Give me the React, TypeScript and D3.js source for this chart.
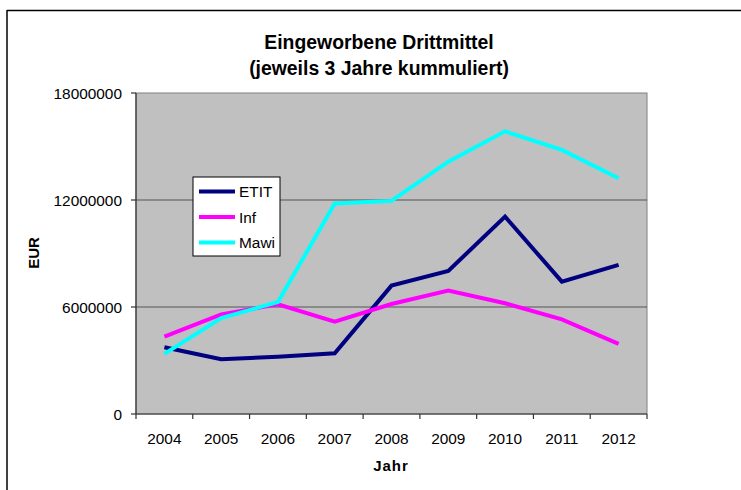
import React from "react";
import * as d3 from "d3";

const years = ["2004", "2005", "2006", "2007", "2008", "2009", "2010", "2011", "2012"];
const etit = [3740000, 3070000, 3210000, 3400000, 7200000, 8020000, 11070000, 7420000, 8360000];
const inf = [4340000, 5590000, 6150000, 5180000, 6170000, 6920000, 6210000, 5310000, 3930000];
const mawi = [3370000, 5380000, 6280000, 11810000, 11950000, 14150000, 15850000, 14810000, 13220000];
const yTicks = [0, 6000000, 12000000, 18000000];
const seriesNames = ["ETIT", "Inf", "Mawi"];
const seriesColors = ["#000080", "#FF00FF", "#00FFFF"];
const titleLines = ["Eingeworbene Drittmittel", "(jeweils 3 Jahre kummuliert)"];

export default function App() {
  const W = 741, H = 490;
  const left = 136, right = 647, top = 93, bottom = 414;
  const x = d3.scaleBand<string>().domain(years).range([left, right]);
  const y = d3.scaleLinear().domain([0, 18000000]).range([bottom, top]);
  const line = d3
    .line<number>()
    .x((_, i) => (x(years[i]) as number) + x.bandwidth() / 2)
    .y((d) => y(d));
  const data = [etit, inf, mawi];
  const font = "Arial, 'Liberation Sans', sans-serif";
  const legendX = 193, legendY = 177, legendW = 87, legendH = 79;

  return (
    <svg
      width={W}
      height={H}
      style={{ position: "absolute", left: 0, top: 0, background: "#fff" }}
      fontFamily={font}
    >
      <rect x={0} y={0} width={W} height={H} fill="#fff" />
      {/* outer frame (cropped) */}
      <line x1={7} y1={10.5} x2={W} y2={10.5} stroke="#000" strokeWidth={1.5} />
      <line x1={7} y1={10} x2={7} y2={H} stroke="#000" strokeWidth={1.5} />

      {/* title */}
      <text x={379} y={49} textAnchor="middle" fontWeight="bold" fontSize={19.4} fill="#000">
        {titleLines[0]}
      </text>
      <text x={379} y={75} textAnchor="middle" fontWeight="bold" fontSize={19.4} fill="#000">
        {titleLines[1]}
      </text>

      {/* plot area */}
      <rect x={left} y={top} width={right - left} height={bottom - top} fill="#C0C0C0" stroke="#808080" strokeWidth={1} />
      {yTicks.slice(1, 3).map((t) => (
        <line key={t} x1={left} x2={right} y1={y(t)} y2={y(t)} stroke="#555" strokeWidth={1.2} />
      ))}

      {/* y axis */}
      <line x1={left} x2={left} y1={top} y2={bottom} stroke="#333" strokeWidth={1.2} />
      {yTicks.map((t) => (
        <g key={t}>
          <line x1={left - 5} x2={left} y1={y(t)} y2={y(t)} stroke="#333" strokeWidth={1.2} />
          <text x={left - 14} y={y(t) + 5.5} textAnchor="end" fontSize={15.4} fill="#000">
            {t}
          </text>
        </g>
      ))}

      {/* x axis */}
      <line x1={left} x2={right} y1={bottom} y2={bottom} stroke="#333" strokeWidth={1.2} />
      {years.map((yr) => (
        <line
          key={"t" + yr}
          x1={x(yr) as number}
          x2={x(yr) as number}
          y1={bottom}
          y2={bottom + 5}
          stroke="#333"
          strokeWidth={1.2}
        />
      ))}
      <line x1={right} x2={right} y1={bottom} y2={bottom + 5} stroke="#333" strokeWidth={1.2} />
      {years.map((yr) => (
        <text
          key={yr}
          x={(x(yr) as number) + x.bandwidth() / 2}
          y={444}
          textAnchor="middle"
          fontSize={15.4}
          fill="#000"
        >
          {yr}
        </text>
      ))}

      {/* axis titles */}
      <text x={391} y={471} textAnchor="middle" fontWeight="bold" fontSize={15} letterSpacing={1} fill="#000">
        Jahr
      </text>
      <text
        transform={`translate(39,253) rotate(-90)`}
        textAnchor="middle"
        fontWeight="bold"
        fontSize={15}
        fill="#000"
      >
        EUR
      </text>

      {/* series */}
      {data.map((d, i) => (
        <path
          key={seriesNames[i]}
          d={line(d) as string}
          fill="none"
          stroke={seriesColors[i]}
          strokeWidth={4}
          strokeLinejoin="miter"
        />
      ))}

      {/* legend */}
      <rect x={legendX} y={legendY} width={legendW} height={legendH} fill="#fff" stroke="#000" strokeWidth={1} />
      {seriesNames.map((n, i) => {
        const ly = 191.5 + i * 25.5;
        return (
          <g key={n}>
            <line x1={199} x2={235} y1={ly} y2={ly} stroke={seriesColors[i]} strokeWidth={4} />
            <text x={239} y={ly + 5.5} fontSize={15.4} fill="#000">
              {n}
            </text>
          </g>
        );
      })}
    </svg>
  );
}
